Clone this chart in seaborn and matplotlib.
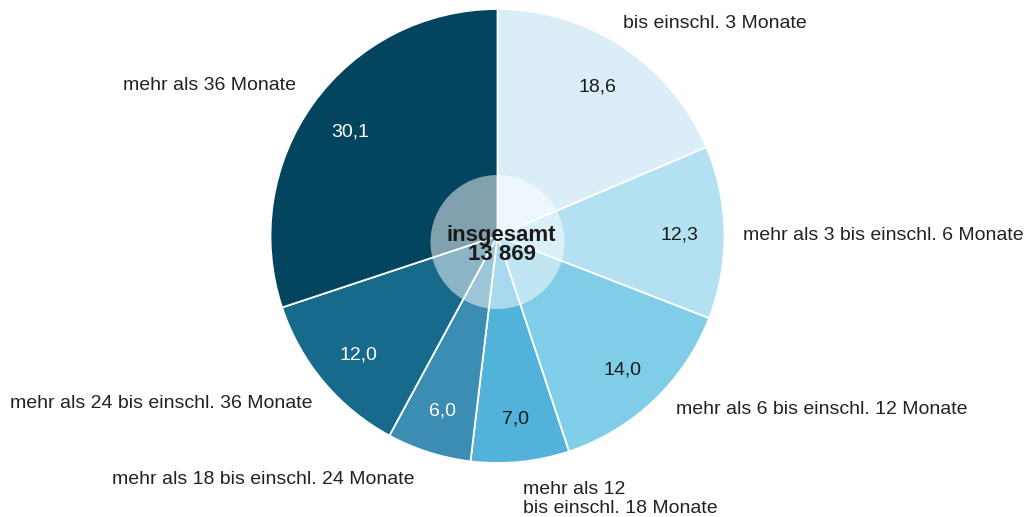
import matplotlib
matplotlib.use("Agg")
import matplotlib.pyplot as plt
import seaborn as sns
import numpy as np
from matplotlib.patches import Circle

categories = [
    "bis einschl. 3 Monate",
    "mehr als 3 bis einschl. 6 Monate",
    "mehr als 6 bis einschl. 12 Monate",
    "mehr als 12\nbis einschl. 18 Monate",
    "mehr als 18 bis einschl. 24 Monate",
    "mehr als 24 bis einschl. 36 Monate",
    "mehr als 36 Monate",
]
values = [18.6, 12.3, 14.0, 7.0, 6.0, 12.0, 30.1]
total_label = "insgesamt\n13 869"

colors = ["#dbeef8", "#b3e1f1", "#7fcde6", "#52b2da", "#3c8db3", "#176a8b", "#03445e"]
value_text_colors = ["#1a1a1a", "#1a1a1a", "#1a1a1a", "#1a1a1a", "#ffffff", "#ffffff", "#ffffff"]

# label placement (pixel coords, top-left origin) and alignment
label_pos = [(623, 24), (743, 235), (676, 410), (523, 499), (415, 480), (313, 404), (296, 86)]
label_ha = ["left", "left", "left", "left", "right", "right", "right"]

sns.set_theme(style="white")
plt.rcParams["font.family"] = ["Liberation Sans", "DejaVu Sans"]

W, H = 1029, 517
fig = plt.figure(figsize=(W / 100, H / 100), dpi=100)
ax = fig.add_axes([0, 0, 1, 1])

cx, cy, r = 497.5, H - 236, 227

wedges, texts = ax.pie(
    values,
    colors=colors,
    startangle=90,
    counterclock=False,
    center=(cx, cy),
    radius=r,
    wedgeprops=dict(edgecolor="white", linewidth=1.3),
    frame=True,
)
ax.set_xlim(0, W)
ax.set_ylim(0, H)
ax.set_aspect("equal")
ax.axis("off")

# value labels at 0.8 of radius along slice midpoints
for w, v, tc in zip(wedges, values, value_text_colors):
    ang = np.deg2rad((w.theta1 + w.theta2) / 2)
    x = cx + 0.8 * r * np.cos(ang)
    y = cy + 0.8 * r * np.sin(ang) - 2
    ax.text(x, y, f"{v:.1f}".replace(".", ","), ha="center", va="center",
            fontsize=14, color=tc)

for cat, (px, py), ha in zip(categories, label_pos, label_ha):
    ax.text(px, H - py, cat, ha=ha, va="center", fontsize=14, color="#222222",
            linespacing=1.2)

ax.add_patch(Circle((cx, H - 242), 67, facecolor="white", alpha=0.5, edgecolor="none", zorder=5))
ax.text(cx + 4, H - 245, total_label, ha="center", va="center", fontsize=16,
        fontweight="bold", color="#1a1a1a", linespacing=0.92, zorder=6)

fig.savefig("out.png", dpi=100)
